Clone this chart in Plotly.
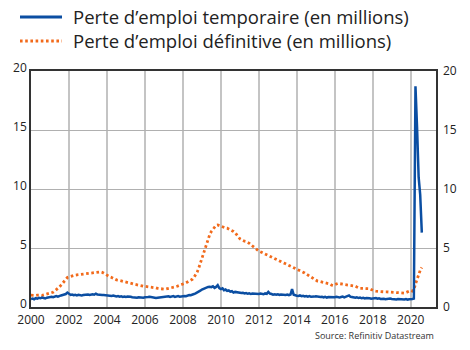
import pandas as pd
import plotly.graph_objects as go

months = pd.date_range("2000-01-01", "2020-08-01", freq="MS")

temporaire = [
    0.68, 0.72, 0.66, 0.75, 0.70, 0.78, 0.74, 0.80, 0.76, 0.72, 0.79, 0.82,
    0.80, 0.86, 0.83, 0.90, 0.92, 0.88, 0.95, 0.98, 1.02, 1.05, 1.10, 1.22,
    1.08, 1.02, 1.06, 1.00, 1.04, 0.98, 1.03, 1.01, 0.97, 1.02, 1.05, 1.03,
    1.06, 1.02, 1.05, 1.08, 1.04, 1.12, 1.06, 1.03, 1.05, 1.01, 1.02, 1.00,
    0.98, 1.01, 0.96, 0.94, 0.97, 0.92, 0.90, 0.93, 0.88, 0.90, 0.86, 0.89,
    0.85, 0.88, 0.84, 0.86, 0.82, 0.80, 0.84, 0.78, 0.82, 0.80, 0.76, 0.79,
    0.82, 0.80, 0.84, 0.86, 0.82, 0.78, 0.80, 0.76, 0.78, 0.80, 0.77, 0.82,
    0.84, 0.82, 0.86, 0.90, 0.85, 0.88, 0.92, 0.86, 0.90, 0.93, 0.88, 0.92,
    0.90, 0.94, 0.92, 0.98, 1.02, 1.00, 1.08, 1.10, 1.16, 1.22, 1.30, 1.38,
    1.48, 1.55, 1.60, 1.62, 1.70, 1.72, 1.68, 1.75, 1.62, 1.70, 1.85, 1.60,
    1.52, 1.58, 1.42, 1.48, 1.36, 1.40, 1.30, 1.34, 1.22, 1.28, 1.25, 1.20,
    1.22, 1.18, 1.20, 1.15, 1.18, 1.12, 1.16, 1.10, 1.14, 1.12, 1.08, 1.12,
    1.10, 1.14, 1.12, 1.08, 1.15, 1.12, 1.28, 1.14, 1.10, 1.05, 1.08, 1.04,
    1.08, 1.02, 1.06, 1.04, 1.08, 1.02, 1.05, 1.00, 1.06, 1.52, 1.04, 0.98,
    0.96, 0.94, 0.98, 0.92, 0.95, 0.90, 0.93, 0.88, 0.92, 0.86, 0.90, 0.88,
    0.90, 0.86, 0.88, 0.84, 0.87, 0.82, 0.86, 0.80, 0.84, 0.82, 0.86, 0.80,
    0.82, 0.86, 0.84, 0.80, 0.85, 0.88, 0.82, 0.86, 0.92, 0.98, 0.86, 0.82,
    0.84, 0.78, 0.82, 0.76, 0.80, 0.74, 0.78, 0.72, 0.76, 0.78, 0.74, 0.70,
    0.74, 0.72, 0.76, 0.70, 0.73, 0.68, 0.72, 0.70, 0.66, 0.70, 0.68, 0.72,
    0.68, 0.66, 0.70, 0.64, 0.68, 0.66, 0.62, 0.66, 0.64, 0.68, 0.62, 0.66,
    0.64, 0.68, 0.72, 18.7, 15.3, 11.0, 9.5, 6.3,
]

definitive = [
    1.00, 0.98, 1.02, 0.98, 1.00, 0.97, 1.00, 0.98, 1.02, 1.00, 1.05, 1.08,
    1.12, 1.18, 1.25, 1.35, 1.45, 1.55, 1.70, 1.85, 2.00, 2.20, 2.35, 2.50,
    2.55, 2.60, 2.62, 2.66, 2.70, 2.72, 2.74, 2.76, 2.78, 2.80, 2.80, 2.82,
    2.82, 2.84, 2.85, 2.86, 2.88, 2.92, 2.96, 3.00, 2.98, 2.94, 2.85, 2.75,
    2.65, 2.60, 2.55, 2.50, 2.42, 2.35, 2.30, 2.28, 2.25, 2.22, 2.18, 2.15,
    2.15, 2.12, 2.08, 2.02, 1.98, 1.94, 1.90, 1.86, 1.82, 1.80, 1.78, 1.76,
    1.75, 1.74, 1.72, 1.72, 1.70, 1.68, 1.65, 1.62, 1.58, 1.55, 1.54, 1.52,
    1.52, 1.52, 1.54, 1.56, 1.58, 1.62, 1.66, 1.70, 1.74, 1.78, 1.84, 1.90,
    1.95, 2.00, 2.05, 2.12, 2.18, 2.25, 2.35, 2.50, 2.70, 2.95, 3.30, 3.70,
    4.20, 4.65, 5.10, 5.50, 5.85, 6.15, 6.40, 6.60, 6.78, 6.92, 6.95, 6.90,
    6.80, 6.75, 6.72, 6.70, 6.68, 6.62, 6.55, 6.48, 6.40, 6.30, 6.10, 5.90,
    5.78, 5.70, 5.62, 5.58, 5.55, 5.50, 5.40, 5.28, 5.15, 5.02, 4.92, 4.85,
    4.75, 4.68, 4.62, 4.55, 4.48, 4.42, 4.36, 4.30, 4.22, 4.15, 4.08, 4.00,
    3.95, 3.90, 3.85, 3.78, 3.72, 3.66, 3.60, 3.54, 3.48, 3.42, 3.36, 3.30,
    3.25, 3.18, 3.10, 3.02, 2.95, 2.88, 2.80, 2.70, 2.60, 2.50, 2.42, 2.35,
    2.25, 2.20, 2.18, 2.15, 2.12, 2.10, 2.08, 2.06, 2.02, 1.95, 1.85, 1.82,
    1.90, 1.98, 2.00, 1.98, 1.96, 1.95, 1.94, 1.92, 1.92, 1.90, 1.88, 1.82,
    1.80, 1.76, 1.70, 1.62, 1.58, 1.58, 1.60, 1.58, 1.56, 1.58, 1.55, 1.48,
    1.40, 1.36, 1.34, 1.32, 1.30, 1.30, 1.32, 1.30, 1.28, 1.28, 1.26, 1.25,
    1.25, 1.24, 1.24, 1.22, 1.22, 1.20, 1.22, 1.20, 1.18, 1.22, 1.30, 1.38,
    1.40, 1.35, 1.45, 1.95, 2.40, 2.85, 3.10, 3.35,
]

y_ticks = [0, 5, 10, 15, 20]
names = ["Perte d\u2019emploi temporaire (en millions)",
         "Perte d\u2019emploi d\u00e9finitive (en millions)"]
source = "Source: Refinitiv Datastream"

BLUE = "#0b4ea2"
ORANGE = "#f26a1b"
FONT = "Open Sans"
DOT = "2.6px,2.6px"

W, H = 470, 350
ML, MR, MT, MB = 31, 34, 71, 43
PW, PH = W - ML - MR, H - MT - MB


def px(x):
    return (x - ML) / PW


def py(y):
    return (H - MB - y) / PH


fig = go.Figure()
fig.add_trace(go.Scatter(x=months, y=definitive, name=names[1], mode="lines",
                         line=dict(color=ORANGE, width=2.8, dash=DOT)))
fig.add_trace(go.Scatter(x=months, y=temporaire, name=names[0], mode="lines",
                         line=dict(color=BLUE, width=2.5)))
fig.add_trace(go.Scatter(x=months[:1], y=[0], yaxis="y2", showlegend=False,
                         mode="markers", marker=dict(opacity=0), hoverinfo="skip"))

# manual legend
shapes = []
annotations = []
for i, (nm, col, dash, lw) in enumerate([(names[0], BLUE, "solid", 3),
                                         (names[1], ORANGE, DOT, 2.8)]):
    yc = 17 + 24 * i
    shapes.append(dict(type="line", xref="paper", yref="paper",
                       x0=px(20), x1=px(62), y0=py(yc), y1=py(yc),
                       line=dict(color=col, width=lw, dash=dash)))
    annotations.append(dict(text=nm, xref="paper", yref="paper",
                            x=px(71), y=py(yc), xanchor="left", yanchor="middle",
                            showarrow=False,
                            font=dict(size=18.5, color="#222", family=FONT)))

annotations.append(dict(text=source, xref="paper", yref="paper", x=px(436),
                        y=py(327), xanchor="right", yanchor="top", showarrow=False,
                        font=dict(size=9, color="#333", family=FONT)))

fig.update_layout(
    width=W, height=H,
    margin=dict(l=ML, r=MR, t=MT, b=MB, autoexpand=False),
    paper_bgcolor="white", plot_bgcolor="white",
    font=dict(family=FONT, size=12, color="#222"),
    showlegend=False,
    xaxis=dict(type="date", range=["2000-01-01", "2021-05-01"],
               tick0="2000-01-01", dtick="M24", tickformat="%Y",
               showgrid=True, gridcolor="#c4c4c4", gridwidth=2,
               showline=True, linecolor="#333", linewidth=1.5, mirror=True,
               ticks="", zeroline=False, tickfont=dict(size=12),
               ticklabelstandoff=1),
    yaxis=dict(range=[0, 20], tickvals=y_ticks, showgrid=True,
               gridcolor="#b0b0b0", gridwidth=1, zeroline=False,
               showline=True, linecolor="#333", linewidth=1.5, mirror=True,
               ticks="", tickfont=dict(size=12), ticklabelshift=-3),
    yaxis2=dict(range=[0, 20], tickvals=y_ticks, overlaying="y", side="right",
                showgrid=False, zeroline=False, showline=False, ticks="",
                ticklabelstandoff=6, tickfont=dict(size=12)),
    shapes=shapes,
    annotations=annotations,
)

fig.write_html("out.html")
